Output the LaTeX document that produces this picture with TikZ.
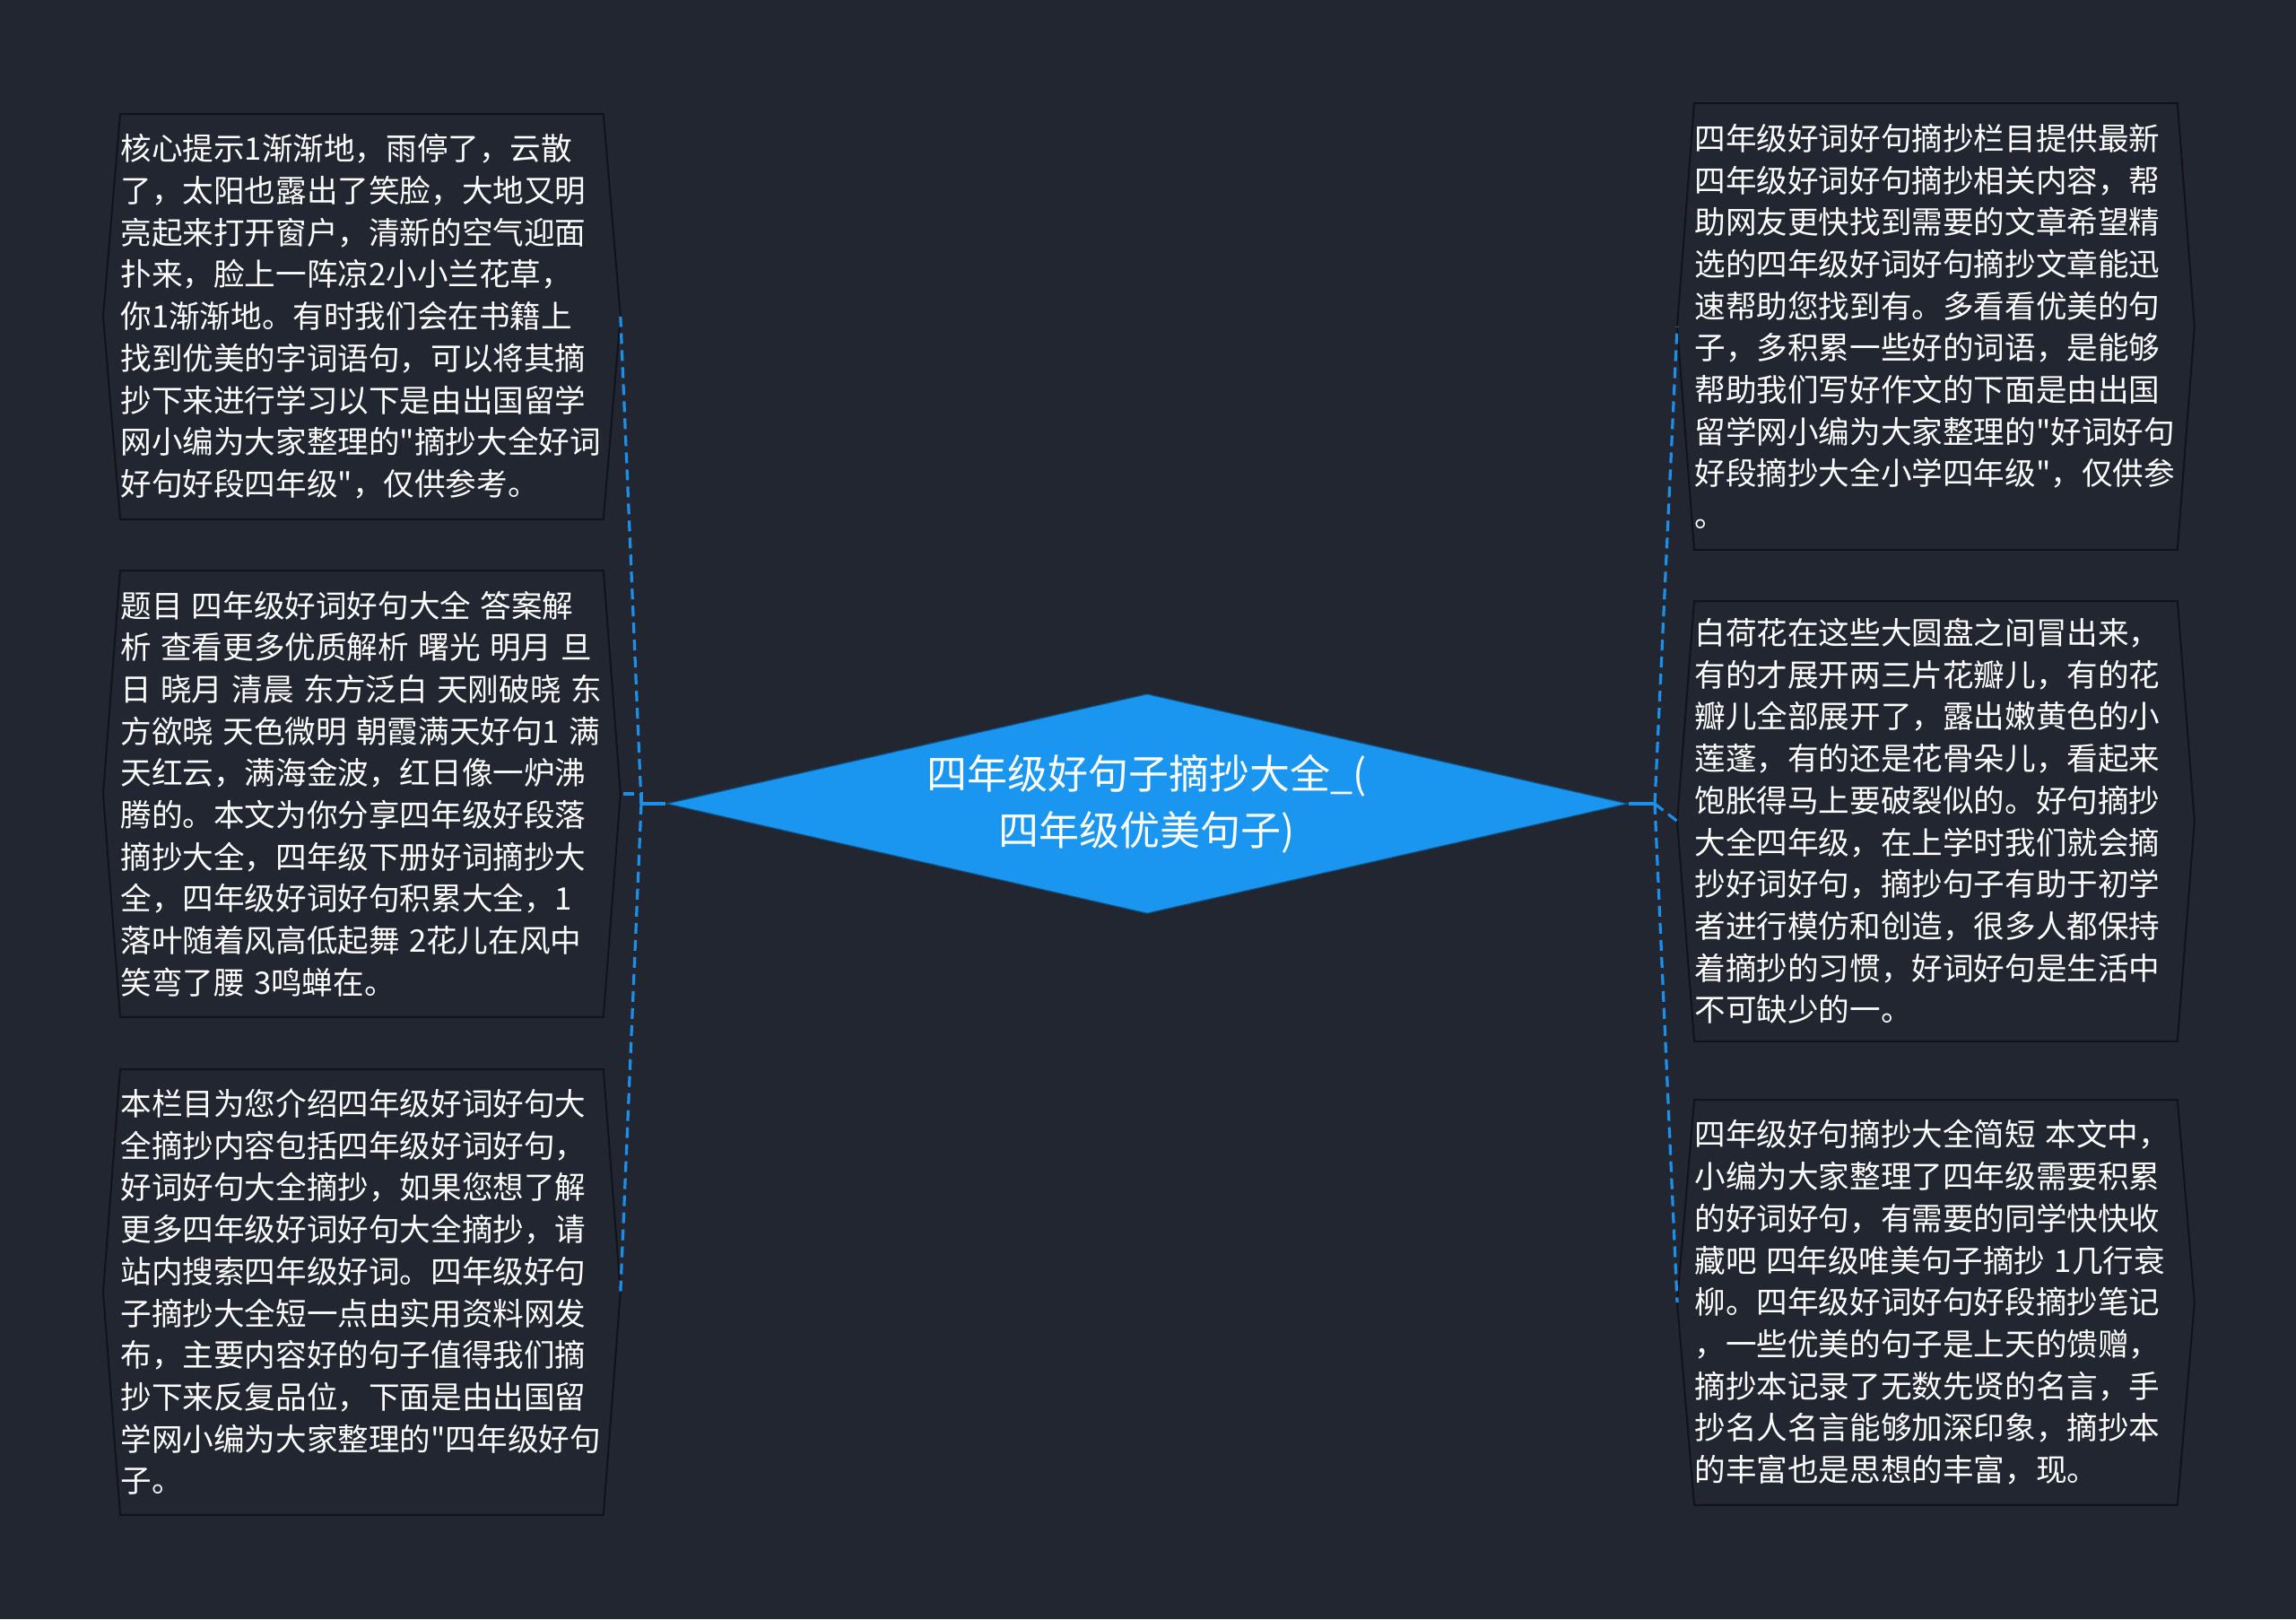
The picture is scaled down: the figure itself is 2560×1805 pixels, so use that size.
\documentclass[tikz,border=0pt]{standalone}
\usepackage{fontspec}
\newfontfamily\notofont{Noto Sans CJK SC}
\usetikzlibrary{shapes.geometric}
\definecolor{bg}{HTML}{222631}
\definecolor{rootblue}{HTML}{1B96F0}
\definecolor{rim}{HTML}{111318}
\definecolor{wire}{HTML}{1E8FE8}

\begin{document}
\begin{tikzpicture}[x=0.5pt,y=-0.5pt,
 note/.style={anchor=north west,text width=269pt,align=left,inner sep=0pt,text=white,font=\notofont\fontsize{17.3}{23.35}\selectfont,execute at begin node={\spaceskip=5.2pt\relax}},
 root/.style={diamond,shape aspect=4.375,minimum width=536pt,minimum height=122.5pt,inner sep=0pt,fill=rootblue,draw=rootblue!55!black,line width=0.6pt,align=center,text=white,font=\notofont\fontsize{22.5}{31.5}\selectfont},
 stub/.style={wire,line width=1.8pt},
 link/.style={wire,line width=1.6pt,dash pattern=on 6pt off 3.5pt},
 rimline/.style={rim,line width=1pt}]
% page
\fill[bg] (0,0) rectangle (2560,1805);
% centre
\node[root] (root) at (1279,896) {四年级好句子摘抄大全\_(\\四年级优美句子)};
% left notes
\node[note,minimum height=225.5pt] (l1) at (134,127) {核心提示1渐渐地，雨停了，云散\\了，太阳也露出了笑脸，大地又明\\亮起来打开窗户，清新的空气迎面\\扑来，脸上一阵凉2小小兰花草，\\你1渐渐地。有时我们会在书籍上\\找到优美的字词语句，可以将其摘\\抄下来进行学习以下是由出国留学\\网小编为大家整理的"摘抄大全好词\\好句好段四年级"，仅供参考。};
\node[note,minimum height=248.5pt] (l2) at (134,636) {题目~四年级好词好句大全~答案解\\析~查看更多优质解析~曙光~明月~旦\\日~晓月~清晨~东方泛白~天刚破晓~东\\方欲晓~天色微明~朝霞满天好句1~满\\天红云，满海金波，红日像一炉沸\\腾的。本文为你分享四年级好段落\\摘抄大全，四年级下册好词摘抄大\\全，四年级好词好句积累大全，1\\落叶随着风高低起舞~2花儿在风中\\笑弯了腰~3鸣蝉在。};
\node[note,minimum height=248pt] (l3) at (134,1192) {本栏目为您介绍四年级好词好句大\\全摘抄内容包括四年级好词好句，\\好词好句大全摘抄，如果您想了解\\更多四年级好词好句大全摘抄，请\\站内搜索四年级好词。四年级好句\\子摘抄大全短一点由实用资料网发\\布，主要内容好的句子值得我们摘\\抄下来反复品位，下面是由出国留\\学网小编为大家整理的"四年级好句\\子。};
% right notes
\node[note,minimum height=248.5pt] (r1) at (1889,115) {四年级好词好句摘抄栏目提供最新\\四年级好词好句摘抄相关内容，帮\\助网友更快找到需要的文章希望精\\选的四年级好词好句摘抄文章能迅\\速帮助您找到有。多看看优美的句\\子，多积累一些好的词语，是能够\\帮助我们写好作文的下面是由出国\\留学网小编为大家整理的"好词好句\\好段摘抄大全小学四年级"，仅供参\\。};
\node[note,minimum height=245pt] (r2) at (1889,670) {白荷花在这些大圆盘之间冒出来，\\有的才展开两三片花瓣儿，有的花\\瓣儿全部展开了，露出嫩黄色的小\\莲蓬，有的还是花骨朵儿，看起来\\饱胀得马上要破裂似的。好句摘抄\\大全四年级，在上学时我们就会摘\\抄好词好句，摘抄句子有助于初学\\者进行模仿和创造，很多人都保持\\着摘抄的习惯，好词好句是生活中\\不可缺少的一。};
\node[note,minimum height=225.5pt] (r3) at (1889,1226) {四年级好句摘抄大全简短~本文中，\\小编为大家整理了四年级需要积累\\的好词好句，有需要的同学快快收\\藏吧~四年级唯美句子摘抄~1几行衰\\柳。四年级好词好句好段摘抄笔记\\，一些优美的句子是上天的馈赠，\\摘抄本记录了无数先贤的名言，手\\抄名人名言能够加深印象，摘抄本\\的丰富也是思想的丰富，现。};
% outlines
\foreach \b in {l1,l2,l3,r1,r2,r3}
 \draw[rimline] (\b.north west) -- (\b.north east) -- ([xshift=9.5pt]\b.east) -- (\b.south east) -- (\b.south west) -- ([xshift=-9.5pt]\b.west) -- cycle;
% links
\coordinate (jl) at (715,896);
\coordinate (jr) at (1845,896);
\draw[stub] (root.west) -- (jl);
\draw[stub] (root.east) -- (jr);
\draw[link] (jl) -- ([xshift=9.5pt]l1.east);
\draw[link] (jl) |- ([xshift=9.5pt]l2.east);
\draw[link] (jl) -- ([xshift=9.5pt]l3.east);
\draw[link] (jr) -- ([xshift=-9.5pt]r1.west);
\draw[link] (jr) -- ([xshift=-9.5pt]r2.west);
\draw[link] (jr) -- ([xshift=-9.5pt]r3.west);
\end{tikzpicture}
\end{document}
